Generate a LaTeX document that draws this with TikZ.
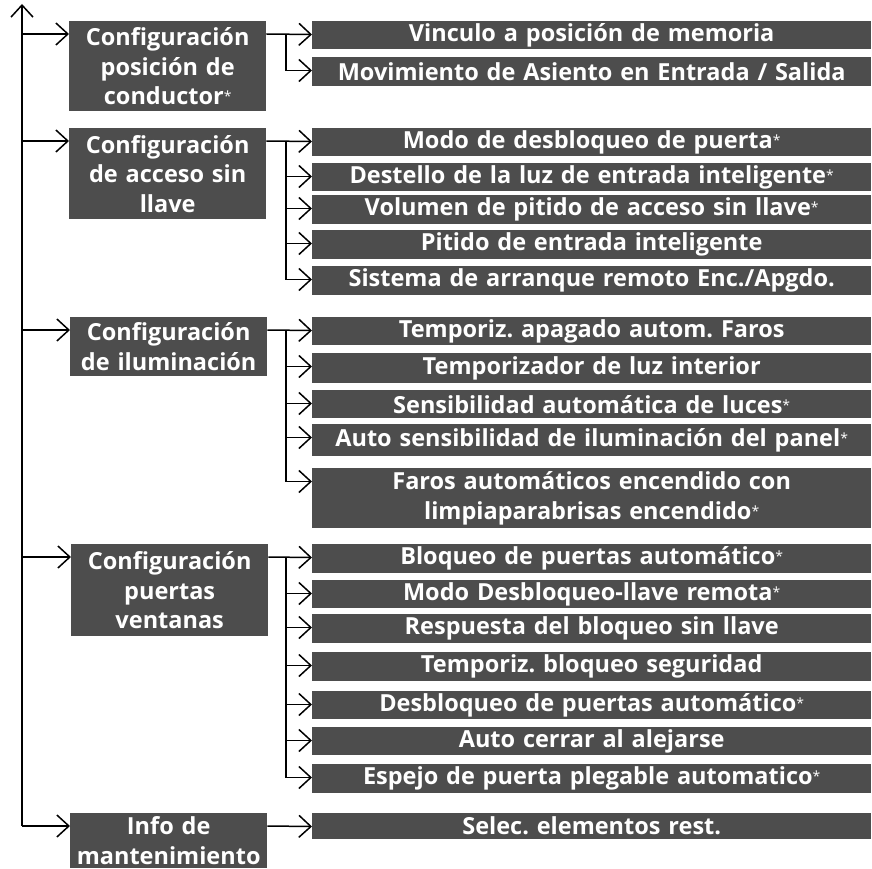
\documentclass[tikz,border=0pt]{standalone}
\usepackage{fontspec}
\setmainfont{Open Sans}
\usetikzlibrary{arrows.meta}
\definecolor{boxgray}{RGB}{77,77,77}
\newcommand{\mystar}{\raisebox{3pt}{\fontsize{14}{14}\selectfont\mdseries *}}
\frenchspacing
\begin{document}
\begin{tikzpicture}[x=1pt,y=-1pt,
  box/.style={fill=boxgray,text=white,font=\frenchspacing\bfseries\fontsize{23.5}{29.5}\selectfont,align=center,inner sep=0pt,anchor=north west},
  parent/.style={box,text width=197pt},
  child/.style={box,text width=559pt},
  link/.style={line width=1.5pt},
  arr/.style={link,-{Straight Barb[length=12pt,width=22pt]}}]
\useasboundingbox (0,0) rectangle (872,869);
% parent boxes
\node[parent,minimum height=90pt] (p1) at (69,21) {Configuración\\posición de\\conductor\mystar};
\node[parent,minimum height=91pt] (p2) at (69,128) {Configuración\\de acceso sin\\llave};
\node[parent,minimum height=59pt] (p3) at (70,317) {Configuración\\de iluminación};
\node[parent,minimum height=92pt] (p4) at (71,544) {Configuración\\puertas\\ventanas};
\node[parent,minimum height=55pt] (p5) at (70,813) {Info de\\mantenimiento};
% children
\node[child,minimum height=28pt] (c1) at (312,21) {Vinculo a posición de memoria};
\node[child,minimum height=29pt] (c2) at (312,57) {Movimiento de Asiento en Entrada / Salida};
\node[child,minimum height=28pt] (c3) at (312,128) {Modo de desbloqueo de puerta\mystar};
\node[child,minimum height=28pt] (c4) at (312,163) {Destello de la luz de entrada inteligente\mystar};
\node[child,minimum height=29pt] (c5) at (312,195) {Volumen de pitido de acceso sin llave\mystar};
\node[child,minimum height=29pt] (c6) at (312,230) {Pitido de entrada inteligente};
\node[child,minimum height=29pt] (c7) at (312,266) {Sistema de arranque remoto Enc./Apgdo.};
\node[child,minimum height=28pt] (c8) at (312,317) {Temporiz. apagado autom. Faros};
\node[child,minimum height=30pt] (c9) at (312,353) {Temporizador de luz interior};
\node[child,minimum height=28pt] (c10) at (312,390) {Sensibilidad automática de luces\mystar};
\node[child,minimum height=32pt] (c11) at (312,424) {Auto sensibilidad de iluminación del panel\mystar};
\node[child,minimum height=60pt] (c12) at (312,468) {Faros automáticos encendido con\\limpiaparabrisas encendido\mystar};
\node[child,minimum height=29pt] (c13) at (312,544) {Bloqueo de puertas automático\mystar};
\node[child,minimum height=28pt] (c14) at (312,580) {Modo Desbloqueo-llave remota\mystar};
\node[child,minimum height=29pt] (c15) at (312,614) {Respuesta del bloqueo sin llave};
\node[child,minimum height=29pt] (c16) at (312,652) {Temporiz. bloqueo seguridad};
\node[child,minimum height=28pt] (c17) at (312,691) {Desbloqueo de puertas automático\mystar};
\node[child,minimum height=28pt] (c18) at (312,727) {Auto cerrar al alejarse};
\node[child,minimum height=29pt] (c19) at (312,764) {Espejo de puerta plegable automatico\mystar};
\node[child,minimum height=26pt] (c20) at (312,813) {Selec. elementos rest.};
% guide coordinates
\coordinate (main) at (22,0);
\coordinate (top) at (22,4);
\coordinate (branch) at (286,0);
\foreach \i in {1,...,5} {\coordinate (pa\i) at ([yshift=-13pt]p\i.north west);
  \coordinate (pr\i) at (p\i.east |- pa\i);}
\foreach \i in {1,...,20} {\coordinate (ca\i) at ([yshift=-13.5pt]c\i.north west);}
% main spine
\draw[arr] (main |- pa5) -- (top);
\foreach \i in {1,...,5} {\draw[arr] (main |- pa\i) -- (pa\i);}
% group connectors
\draw[arr] (pr1) -- (ca1);
\draw[arr] (branch |- pr1) |- (ca2);
\draw[arr] (pr2) -- (ca3);
\foreach \i in {4,...,7} {\draw[arr] (branch |- pr2) |- (ca\i);}
\draw[arr] (pr3) -- (ca8);
\foreach \i in {9,...,12} {\draw[arr] (branch |- pr3) |- (ca\i);}
\draw[arr] (pr4) -- (ca13);
\foreach \i in {14,...,19} {\draw[arr] (branch |- pr4) |- (ca\i);}
\draw[arr] (pr5) -- (ca20);
\end{tikzpicture}
\end{document}
